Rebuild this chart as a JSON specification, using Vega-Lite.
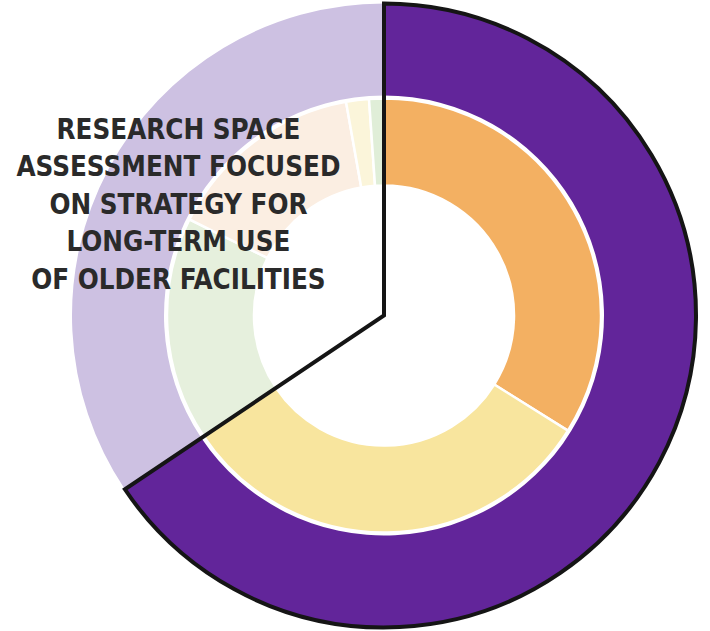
{
  "$schema": "https://vega.github.io/schema/vega-lite/v6.json",
  "width": 652,
  "height": 631,
  "autosize": "none",
  "padding": {"left": 58, "top": 0, "right": 0, "bottom": 0},
  "background": "white",
  "config": {"view": {"stroke": null}},
  "datasets": {
    "outer": [
      {"segment": "Highlighted", "value": 65.6, "rank": 1, "note": ""},
      {"segment": "Remaining", "value": 34.4, "rank": 2, "note": "RESEARCH SPACE\nASSESSMENT FOCUSED\nON STRATEGY FOR\nLONG-TERM USE\nOF OLDER FACILITIES"}
    ],
    "inner": [
      {"segment": "A", "value": 33.9, "rank": 1},
      {"segment": "B", "value": 31.7, "rank": 2},
      {"segment": "C (faded)", "value": 16.7, "rank": 3},
      {"segment": "D (faded)", "value": 14.9, "rank": 4},
      {"segment": "E (faded)", "value": 1.7, "rank": 5},
      {"segment": "F (faded)", "value": 1.1, "rank": 6}
    ]
  },
  "layer": [
    {
      "data": {"name": "outer"},
      "mark": {"type": "arc", "outerRadius": 312, "innerRadius": 220},
      "encoding": {
        "theta": {"field": "value", "type": "quantitative", "stack": true},
        "order": {"field": "rank", "type": "quantitative"},
        "color": {
          "field": "segment",
          "type": "nominal",
          "legend": null,
          "scale": {
            "domain": ["Highlighted", "Remaining", "A", "B", "C (faded)", "D (faded)", "E (faded)", "F (faded)"],
            "range": ["#62259A", "#CDC1E2", "#F3B062", "#F8E59E", "#E6F0DD", "#FBEEE2", "#FBF5DA", "#E0EED8"]
          }
        }
      }
    },
    {
      "data": {"name": "inner"},
      "mark": {"type": "arc", "outerRadius": 217, "innerRadius": 130, "stroke": "white", "strokeWidth": 2.5},
      "encoding": {
        "theta": {"field": "value", "type": "quantitative", "stack": true},
        "order": {"field": "rank", "type": "quantitative"},
        "color": {"field": "segment", "type": "nominal", "legend": null}
      }
    },
    {
      "data": {"name": "outer"},
      "mark": {
        "type": "text",
        "radius": 233,
        "dy": -75,
        "font": "DejaVu Sans Condensed",
        "fontSize": 27.5,
        "fontWeight": "bold",
        "lineBreak": "\n",
        "lineHeight": 37.5,
        "align": "center",
        "baseline": "middle",
        "color": "#2A2A2A"
      },
      "encoding": {
        "theta": {"field": "value", "type": "quantitative", "stack": true},
        "order": {"field": "rank", "type": "quantitative"},
        "text": {"field": "note", "type": "nominal"}
      }
    },
    {
      "data": {"name": "outer"},
      "mark": {"type": "arc", "outerRadius": 312, "innerRadius": 0, "filled": false, "color": "#151515", "strokeWidth": 4, "strokeJoin": "miter"},
      "encoding": {
        "theta": {"field": "value", "type": "quantitative", "stack": true},
        "order": {"field": "rank", "type": "quantitative"},
        "strokeOpacity": {"condition": {"test": "datum.segment === 'Highlighted'", "value": 1}, "value": 0}
      }
    }
  ]
}
